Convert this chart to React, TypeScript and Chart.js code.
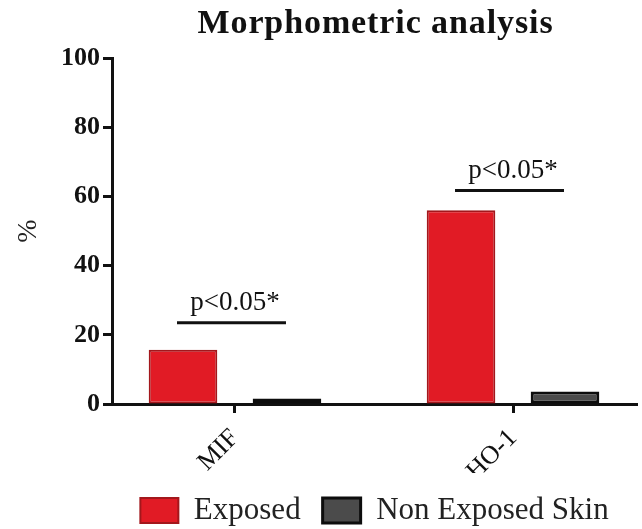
import React, { useEffect, useRef } from "react";
import { Chart, registerables } from "chart.js";

Chart.register(...registerables);

const chartTitle = "Morphometric analysis";
const categories = ["MIF", "HO-1"];
const seriesNames = ["Exposed", "Non Exposed Skin"];
const exposed = [15.7, 56];
const nonExposed = [1.6, 3.6];
const sigLevels = [23.5, 61.7];
const sigLabels = ["p<0.05*", "p<0.05*"];
const yTicks = [0, 20, 40, 60, 80, 100];
const yTitle = "%";

const SERIF = '"Liberation Serif", "Times New Roman", serif';

const titlePlugin = {
  id: "customTitle",
  afterDraw(chart: any) {
    const { ctx, chartArea } = chart;
    ctx.save();
    ctx.font = `bold 34px ${SERIF}`;
    (ctx as any).letterSpacing = "0.9px";
    ctx.fillStyle = "#111";
    ctx.textAlign = "center";
    ctx.textBaseline = "alphabetic";
    ctx.fillText(chartTitle, (chartArea.left + chartArea.right) / 2 + 1, 33);
    ctx.restore();
  },
};

const sigPlugin = {
  id: "sigMarks",
  afterDatasetsDraw(chart: any) {
    const { ctx } = chart;
    const x = chart.scales.x;
    const y = chart.scales.y;
    const m0 = chart.getDatasetMeta(0);
    const m1 = chart.getDatasetMeta(1);
    sigLevels.forEach((lvl, i) => {
      const x0 = m0.data[i].x - 6;
      const x1 = m1.data[i].x - 1;
      const yy = y.getPixelForValue(lvl);
      ctx.save();
      ctx.strokeStyle = "#111";
      ctx.lineWidth = 3;
      ctx.beginPath();
      ctx.moveTo(x0, yy);
      ctx.lineTo(x1, yy);
      ctx.stroke();
      ctx.font = `27px ${SERIF}`;
      ctx.fillStyle = "#111";
      ctx.textAlign = "center";
      ctx.textBaseline = "alphabetic";
      ctx.fillText(sigLabels[i], x.getPixelForValue(i + 1), yy - 13);
      ctx.restore();
    });
  },
};

export default function App() {
  const ref = useRef<HTMLCanvasElement | null>(null);

  useEffect(() => {
    document.body.style.margin = "0";
    document.body.style.overflow = "hidden";
    if (!ref.current) return;
    const chart = new Chart(ref.current, {
      type: "bar",
      data: {
        datasets: [
          {
            label: seriesNames[0],
            data: exposed.map((v, i) => ({ x: i + 1, y: v })),
            backgroundColor: "#e11b25",
            borderColor: "#a3171c",
            borderWidth: 2,
            borderSkipped: false,
            categoryPercentage: 0.748,
            barPercentage: 0.66,
          },
          {
            label: seriesNames[1],
            data: nonExposed.map((v, i) => ({ x: i + 1, y: v })),
            backgroundColor: "#4b4b4b",
            borderColor: "#0d0d0d",
            borderWidth: 3,
            borderSkipped: false,
            categoryPercentage: 0.748,
            barPercentage: 0.66,
          },
        ],
      } as any,
      options: {
        animation: false,
        responsive: true,
        maintainAspectRatio: false,
        layout: { padding: { top: 58, right: 5, left: 0, bottom: -7 } },
        plugins: {
          legend: {
            position: "bottom",
            fullSize: false,
            labels: {
              boxWidth: 38,
              boxHeight: 25,
              padding: 22,
              color: "#222",
              font: { family: SERIF, size: 31 },
            },
          },
          tooltip: { enabled: false },
          title: { display: false },
        },
        scales: {
          x: {
            type: "linear",
            offset: false,
            min: 0.5576,
            max: 2.446,
            afterBuildTicks: (scale: any) => {
              scale.ticks = categories.map((_, i) => ({ value: i + 1 }));
            },
            afterFit: (scale: any) => {
              scale.height = 69;
            },
            grid: {
              offset: false,
              drawOnChartArea: false,
              drawTicks: true,
              tickLength: 9,
              tickWidth: 3,
              tickColor: "#111",
            },
            border: { display: true, color: "#111", width: 3 },
            ticks: {
              autoSkip: false,
              minRotation: 45,
              maxRotation: 45,
              padding: 10,
              color: "#111",
              font: { family: SERIF, size: 26 },
              callback: (v: any) => categories[Number(v) - 1] ?? "",
            },
          },
          y: {
            min: 0,
            max: 100,
            afterBuildTicks: (scale: any) => {
              scale.ticks = yTicks.map((v) => ({ value: v }));
            },
            afterFit: (scale: any) => {
              scale.width = 112;
            },
            grid: {
              drawOnChartArea: false,
              drawTicks: true,
              tickLength: 9,
              tickWidth: 3,
              tickColor: "#111",
            },
            border: { display: true, color: "#111", width: 3 },
            ticks: {
              padding: 3,
              color: "#111",
              font: { family: SERIF, size: 26, weight: "bold" },
            },
            title: {
              display: true,
              text: yTitle,
              color: "#222",
              font: { family: SERIF, size: 28 },
              padding: { top: 12, bottom: 0 },
            },
          },
        },
      } as any,
      plugins: [titlePlugin, sigPlugin],
    });
    return () => chart.destroy();
  }, []);

  return (
    <div style={{ width: 642, height: 529, position: "relative" }}>
      <canvas ref={ref} />
    </div>
  );
}
